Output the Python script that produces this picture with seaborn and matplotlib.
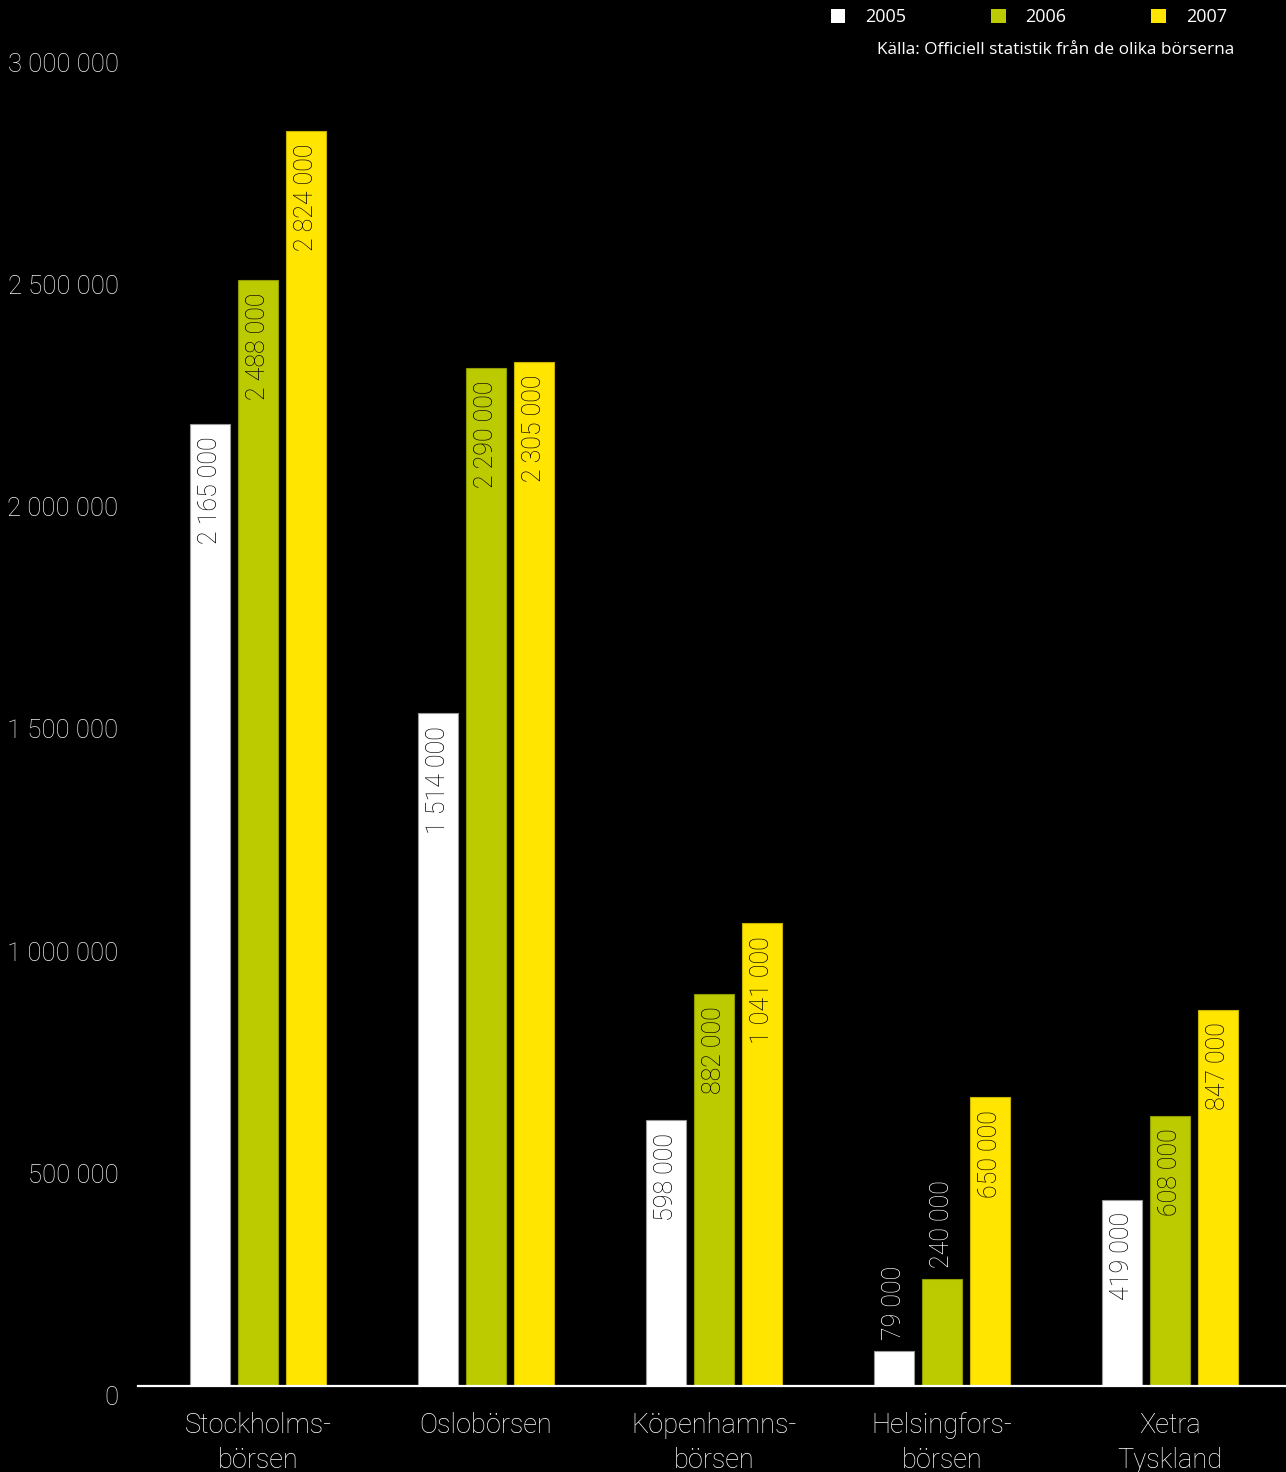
import matplotlib
matplotlib.use("Agg")
import matplotlib.pyplot as plt
import seaborn as sns
import pandas as pd

categories = ["Stockholms-\nbörsen", "Oslobörsen", "Köpenhamns-\nbörsen",
              "Helsingfors-\nbörsen", "Xetra\nTyskland"]
years = ["2005", "2006", "2007"]
v2005 = [2165000, 1514000, 598000, 79000, 419000]
v2006 = [2488000, 2290000, 882000, 240000, 608000]
v2007 = [2824000, 2305000, 1041000, 650000, 847000]
yticks = [0, 500000, 1000000, 1500000, 2000000, 2500000, 3000000]
colors = ["#ffffff", "#bccb00", "#ffe500"]
source = "Källa: Officiell statistik från de olika börserna"

def fmt(v):
    return f"{v:,}".replace(",", " ")

rows = []
for y, vals in zip(years, [v2005, v2006, v2007]):
    for c, v in zip(categories, vals):
        rows.append({"cat": c, "year": y, "value": v})
df = pd.DataFrame(rows)

sns.set_style("dark")
plt.rcParams["font.family"] = ["Roboto", "DejaVu Sans"]
plt.rcParams["font.weight"] = "light"

fig = plt.figure(figsize=(12.86, 14.72), dpi=100, facecolor="black")
ax = fig.add_axes([138/1286, 86/1472, 1148/1286, 1333/1472])
ax.set_facecolor("black")

sns.barplot(data=df, x="cat", y="value", hue="year", order=categories,
            hue_order=years, palette=colors, width=0.6316, gap=0.1667,
            saturation=1, ax=ax, linewidth=0.8, edgecolor="#777700")

ax.set_xlim(-0.526, -0.526 + 1148/228)
ax.set_ylim(0, 3000000)

# edges per color
for cont, col in zip(ax.containers, ["#9a9a9a", "#8f9a00", "#c8b400"]):
    for p in cont:
        p.set_edgecolor(col)

# bar value labels
for cont in ax.containers:
    for p in cont:
        h = p.get_height()
        xc = p.get_x() + p.get_width()/2
        if h < 300000:
            ax.annotate(fmt(int(round(h))), (xc, h), xytext=(0, 8),
                        textcoords="offset points", rotation=90,
                        ha="center", va="bottom", color="white",
                        fontsize=18, fontweight="light")
        else:
            ax.annotate(fmt(int(round(h))), (xc, h), xytext=(0, -9),
                        textcoords="offset points", rotation=90,
                        ha="center", va="top", color="black",
                        fontsize=18, fontweight="light")

ax.set_yticks(yticks)
ax.set_yticklabels([fmt(v) for v in yticks])
for lab in ax.get_yticklabels():
    lab.set_va("top")
ax.tick_params(axis="y", length=0, pad=14, labelsize=18.5, labelcolor="#f0f0f0")
ax.tick_params(axis="x", length=0, pad=19, labelsize=19.5, labelcolor="white")
for lab in ax.get_xticklabels():
    lab.set_linespacing(1.35)

ax.set_xlabel("")
ax.set_ylabel("")
ax.grid(False)
for s in ["left", "top", "right"]:
    ax.spines[s].set_visible(False)
ax.spines["bottom"].set_color("white")
ax.spines["bottom"].set_linewidth(1.6)

leg = ax.legend(loc="upper left", bbox_to_anchor=(831/1286, 1 - 8/1472),
                bbox_transform=fig.transFigure, ncol=3, frameon=False,
                fontsize=13, handlelength=0.8, handleheight=0.8,
                handletextpad=1.1, columnspacing=4.7, borderaxespad=0,
                borderpad=0)
for t in leg.get_texts():
    t.set_color("white")
    t.set_family(["Open Sans", "DejaVu Sans"])
    t.set_fontweight("normal")
for h in leg.legend_handles:
    h.set_edgecolor("none")

fig.text(1234/1286, 1 - 50/1472, source, ha="right", va="center",
         color="white", fontsize=12.4, family=["Open Sans", "DejaVu Sans"],
         fontweight="normal")

fig.savefig("out.png", dpi=100, facecolor="black")
